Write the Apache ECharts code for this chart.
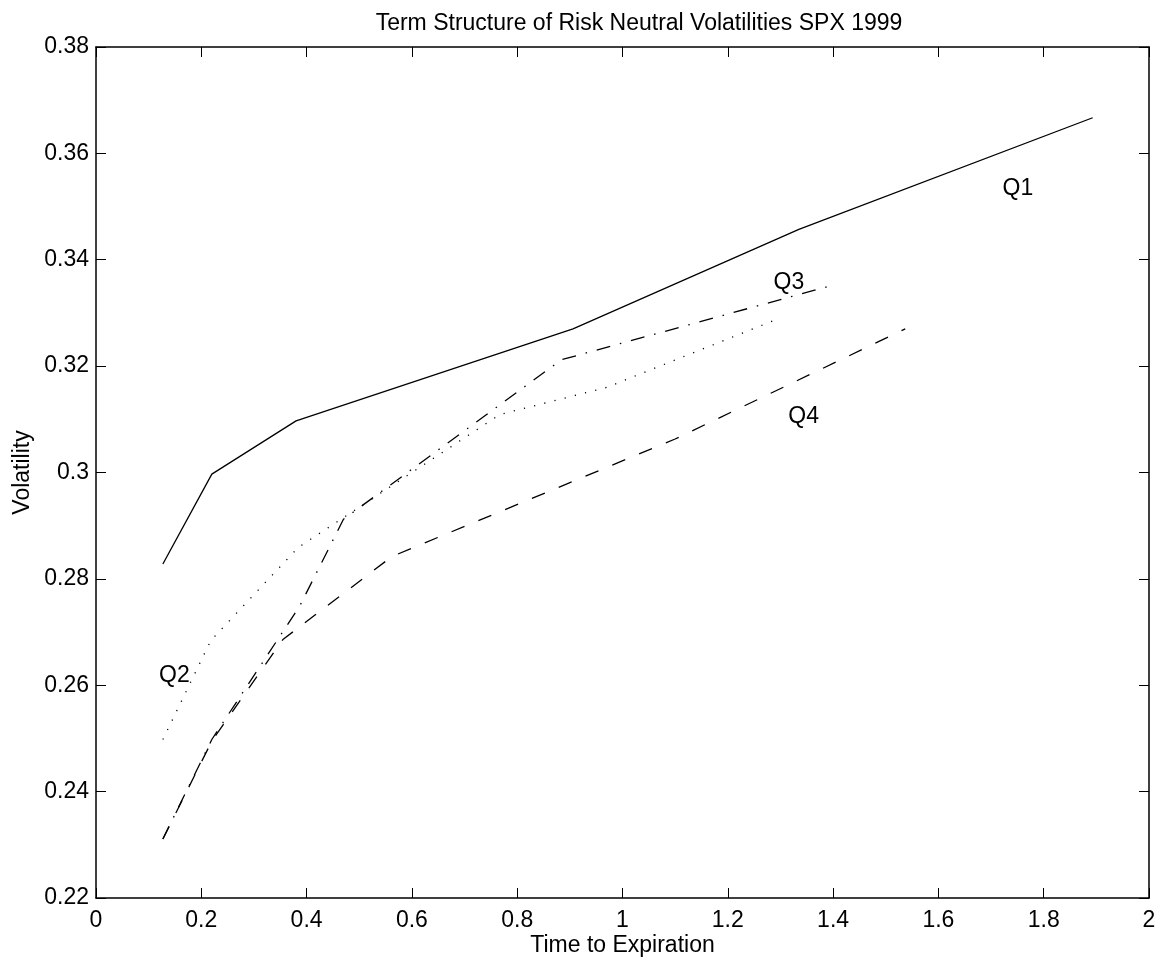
<!DOCTYPE html>
<html>
<head>
<meta charset="utf-8">
<script src="https://cdn.jsdelivr.net/npm/echarts@6/dist/echarts.min.js"></script>
<style>
html,body{margin:0;padding:0;background:#fff;}
#chart{width:1166px;height:966px;}
</style>
</head>
<body>
<div id="chart"></div>
<script>
// ---- data ----
const q1 = [[0.127,0.2828],[0.22,0.2997],[0.38,0.3097],[0.906,0.3270],[1.335,0.3457],[1.893,0.3667]];
const q2 = [[0.127,0.2498],[0.218,0.2684],[0.384,0.2859],[0.767,0.3109],[0.97,0.3160],[1.293,0.3288]];
const q3 = [[0.127,0.2311],[0.22,0.2498],[0.387,0.2749],[0.47,0.2912],[0.884,0.3212],[1.388,0.3349]];
const q4 = [[0.127,0.2311],[0.22,0.2495],[0.355,0.2686],[0.562,0.2842],[1.10,0.3063],[1.537,0.3270]];
const seriesNames = ['Q1','Q2','Q3','Q4'];
const labelNames = ['Q1','Q2','Q3','Q4'];
const labelCoords = [[1.751,0.3533],[0.149,0.2618],[1.316,0.3357],[1.344,0.3105]];
const xTicks = [0,0.2,0.4,0.6,0.8,1,1.2,1.4,1.6,1.8,2];
const yTicks = [0.22,0.24,0.26,0.28,0.3,0.32,0.34,0.36,0.38];
const titleText = 'Term Structure of Risk Neutral Volatilities SPX 1999';
const xName = 'Time to Expiration';
const yName = 'Volatility';

const FONT = '"Liberation Sans", Arial, Helvetica, sans-serif';
const FS = 23;

const chart = echarts.init(document.getElementById('chart'));

function fmtY(v){ return (Math.round(v*100)/100).toString(); }
function fmtX(v){ return (Math.round(v*10)/10).toString(); }

const axisLine = {show:true, onZero:false, lineStyle:{color:'#000', width:1.5}};
const axisTick = {show:true, inside:true, length:10, lineStyle:{color:'#000', width:1}};

const styles = [
  {type:'solid'},
  {type:[1.2,9.3], cap:'butt'},
  {type:[14,10,1.5,10]},
  {type:[14,15]}
];

const lineData = [q1,q2,q3,q4];
const series = lineData.map((d,i)=>({
  name: seriesNames[i],
  type:'line',
  data:d,
  xAxisIndex:0, yAxisIndex:0,
  symbol:'none',
  smooth:false,
  animation:false,
  lineStyle:Object.assign({color:'#000', width:1.3}, styles[i]),
  z:2
}));
series.push({
  type:'scatter',
  xAxisIndex:0, yAxisIndex:0,
  symbolSize:0,
  animation:false,
  itemStyle:{color:'#000', opacity:1},
  data: labelCoords.map((c,i)=>({value:c, name:labelNames[i]})),
  label:{show:true, position:'inside', formatter:p=>p.name, color:'#000', opacity:1,
         textBorderWidth:0, textShadowBlur:0,
         fontFamily:FONT, fontSize:FS, align:'center', verticalAlign:'middle'},
  emphasis:{disabled:true},
  z:3
});

chart.setOption({
  backgroundColor:'#fff',
  animation:false,
  title:{
    text:titleText, left:634, top:7, textAlign:'center',
    textStyle:{fontFamily:FONT, fontSize:FS, fontWeight:'normal', color:'#000'}
  },
  grid:{left:96, top:47, width:1053, height:851, containLabel:false, outerBoundsMode:'none'},
  xAxis:[
    {type:'value', min:0, max:2, interval:0.2, position:'bottom',
     axisLine, axisTick, splitLine:{show:false},
     axisLabel:{color:'#000', fontFamily:FONT, fontSize:FS, margin:11, formatter:fmtX},
     name:xName, nameLocation:'middle', nameGap:36, nameMoveOverlap:false,
     nameTextStyle:{color:'#000', fontFamily:FONT, fontSize:FS}},
    {type:'value', min:0, max:2, interval:0.2, position:'top',
     axisLine, axisTick, splitLine:{show:false}, axisLabel:{show:false}}
  ],
  yAxis:[
    {type:'value', min:0.22, max:0.38, interval:0.02, position:'left',
     axisLine, axisTick, splitLine:{show:false},
     axisLabel:{color:'#000', fontFamily:FONT, fontSize:FS, margin:7, formatter:fmtY},
     name:yName, nameLocation:'middle', nameGap:62, nameRotate:90, nameMoveOverlap:false,
     nameTextStyle:{color:'#000', fontFamily:FONT, fontSize:FS}},
    {type:'value', min:0.22, max:0.38, interval:0.02, position:'right',
     axisLine, axisTick, splitLine:{show:false}, axisLabel:{show:false}}
  ],
  series
});
</script>
</body>
</html>
